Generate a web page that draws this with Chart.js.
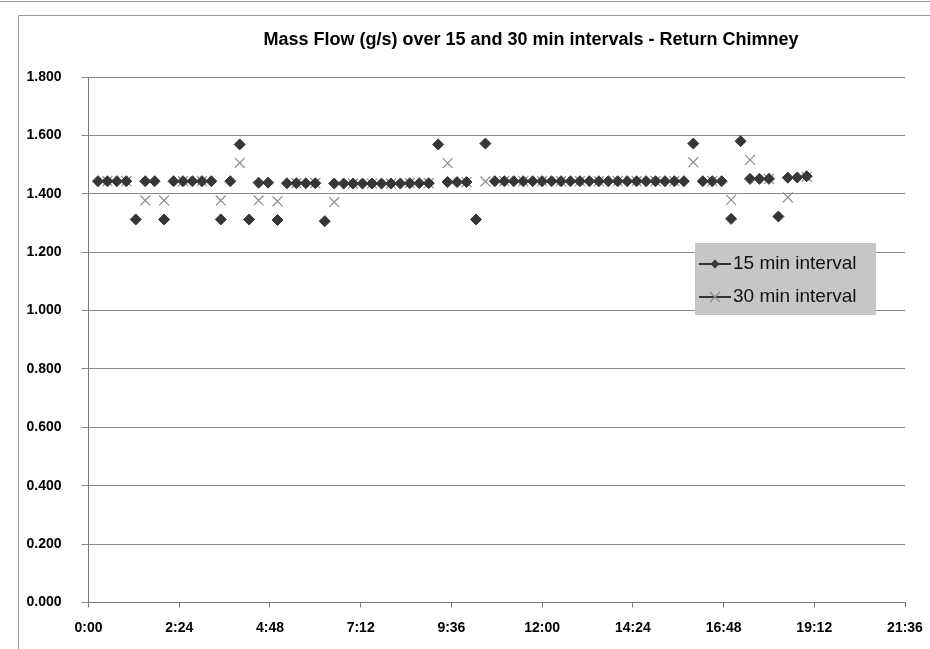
<!DOCTYPE html>
<html>
<head>
<meta charset="utf-8">
<script src="https://cdn.jsdelivr.net/npm/chart.js@4.4.0/dist/chart.umd.min.js"></script>
<style>
  html, body { margin: 0; padding: 0; background: #ffffff; }
  #wrap { width: 930px; height: 649px; position: relative; }
</style>
</head>
<body>
<div id="wrap"><canvas id="c" width="930" height="649"></canvas></div>
<script>
const chartTitle = "Mass Flow (g/s) over 15 and 30 min intervals - Return Chimney";
const seriesNames = ["15 min interval", "30 min interval"];

const times15 = ["0:15","0:30","0:45","1:00","1:15","1:30","1:45","2:00","2:15","2:30",
  "2:45","3:00","3:15","3:30","3:45","4:00","4:15","4:30","4:45","5:00",
  "5:15","5:30","5:45","6:00","6:15","6:30","6:45","7:00","7:15","7:30",
  "7:45","8:00","8:15","8:30","8:45","9:00","9:15","9:30","9:45","10:00",
  "10:15","10:30","10:45","11:00","11:15","11:30","11:45","12:00","12:15","12:30",
  "12:45","13:00","13:15","13:30","13:45","14:00","14:15","14:30","14:45","15:00",
  "15:15","15:30","15:45","16:00","16:15","16:30","16:45","17:00","17:15","17:30",
  "17:45","18:00","18:15","18:30","18:45","19:00"];
const flow15 = [1.443,1.443,1.443,1.443,1.312,1.443,1.443,1.312,1.443,1.443,
  1.443,1.443,1.443,1.312,1.443,1.569,1.312,1.438,1.438,1.310,
  1.436,1.436,1.436,1.436,1.306,1.435,1.435,1.435,1.435,1.435,
  1.435,1.435,1.435,1.436,1.436,1.436,1.569,1.440,1.440,1.440,
  1.312,1.572,1.443,1.443,1.443,1.443,1.443,1.443,1.443,1.443,
  1.443,1.443,1.443,1.443,1.443,1.443,1.443,1.443,1.443,1.443,
  1.443,1.443,1.443,1.572,1.443,1.443,1.443,1.314,1.580,1.451,
  1.451,1.451,1.322,1.455,1.456,1.460];

const times30 = ["0:30","1:00","1:30","2:00","2:30","3:00","3:30","4:00","4:30","5:00",
  "5:30","6:00","6:30","7:00","7:30","8:00","8:30","9:00","9:30","10:00",
  "10:30","11:00","11:30","12:00","12:30","13:00","13:30","14:00","14:30","15:00",
  "15:30","16:00","16:30","17:00","17:30","18:00","18:30","19:00"];
const flow30 = [1.443,1.443,1.377,1.377,1.443,1.443,1.377,1.506,1.377,1.374,
  1.436,1.436,1.371,1.435,1.435,1.435,1.436,1.436,1.505,1.440,
  1.442,1.443,1.443,1.443,1.443,1.443,1.443,1.443,1.443,1.443,
  1.443,1.508,1.443,1.379,1.516,1.451,1.388,1.458];

const xTickLabels = ["0:00","2:24","4:48","7:12","9:36","12:00","14:24","16:48","19:12","21:36"];
const yTickLabels = ["0.000","0.200","0.400","0.600","0.800","1.000","1.200","1.400","1.600","1.800"];

function toHours(t) { const p = t.split(":"); return Number(p[0]) + Number(p[1]) / 60; }
const pts15 = times15.map((t, i) => ({ x: toHours(t), y: flow15[i] }));
const pts30 = times30.map((t, i) => ({ x: toHours(t), y: flow30[i] }));
const xTickValues = xTickLabels.map(toHours);

const FONT = "'Liberation Sans', Arial, sans-serif";
const DIAMOND = '#363636';
const CROSS = '#8c8c8c';

const framePlugin = {
  id: 'frame',
  beforeDraw(chart) {
    const ctx = chart.ctx;
    ctx.save();
    ctx.fillStyle = '#ffffff';
    ctx.fillRect(0, 0, chart.width, chart.height);
    ctx.strokeStyle = '#9a9a9a';
    ctx.lineWidth = 1;
    ctx.beginPath();
    ctx.moveTo(0, 1.5); ctx.lineTo(chart.width, 1.5);
    ctx.stroke();
    ctx.beginPath();
    ctx.moveTo(18.5, chart.height); ctx.lineTo(18.5, 15.5); ctx.lineTo(chart.width, 15.5);
    ctx.stroke();
    ctx.fillStyle = '#000000';
    ctx.font = "bold 18px " + FONT;
    ctx.textAlign = 'center';
    ctx.textBaseline = 'middle';
    ctx.fillText(chartTitle, 531, 40);
    ctx.restore();
  },
  afterDatasetsDraw(chart) {
    const ctx = chart.ctx;
    const bx = 695, by = 243, bw = 181, bh = 72;
    ctx.save();
    ctx.fillStyle = '#c6c6c6';
    ctx.fillRect(bx, by, bw, bh);
    const rows = [{ y: 264, style: 'rectRot', color: DIAMOND, r: 4.5 }, { y: 297, style: 'crossRot', color: CROSS, r: 5 }];
    rows.forEach((row, i) => {
      ctx.strokeStyle = '#333333';
      ctx.lineWidth = 2;
      ctx.beginPath();
      ctx.moveTo(699, row.y); ctx.lineTo(731, row.y);
      ctx.stroke();
      ctx.fillStyle = row.color;
      ctx.strokeStyle = row.color;
      ctx.lineWidth = 1.2;
      ctx.beginPath();
      if (row.style === 'rectRot') {
        ctx.moveTo(715 - row.r, row.y); ctx.lineTo(715, row.y - row.r);
        ctx.lineTo(715 + row.r, row.y); ctx.lineTo(715, row.y + row.r); ctx.closePath();
        ctx.fill();
      } else {
        ctx.moveTo(715 - row.r, row.y - row.r); ctx.lineTo(715 + row.r, row.y + row.r);
        ctx.moveTo(715 + row.r, row.y - row.r); ctx.lineTo(715 - row.r, row.y + row.r);
        ctx.stroke();
      }
      ctx.fillStyle = '#111111';
      ctx.font = "19px " + FONT;
      ctx.textAlign = 'left';
      ctx.textBaseline = 'middle';
      ctx.fillText(seriesNames[i], 733, row.y);
    });
    ctx.restore();
  }
};

new Chart(document.getElementById('c'), {
  type: 'scatter',
  data: {
    datasets: [
      { label: seriesNames[0], data: pts15, showLine: false,
        pointStyle: 'rectRot', pointRadius: 5.5, pointHoverRadius: 5.5,
        backgroundColor: DIAMOND, borderColor: DIAMOND, pointBorderWidth: 1 },
      { label: seriesNames[1], data: pts30, showLine: false,
        pointStyle: 'crossRot', pointRadius: 7, pointHoverRadius: 7,
        backgroundColor: CROSS, borderColor: CROSS, pointBorderWidth: 1.2 }
    ]
  },
  options: {
    responsive: false,
    animation: false,
    events: [],
    layout: { padding: { top: 77, right: 25, left: 0, bottom: 0 } },
    plugins: { legend: { display: false }, title: { display: false }, tooltip: { enabled: false } },
    scales: {
      x: {
        type: 'linear', min: 0, max: 21.6,
        afterBuildTicks(scale) { scale.ticks = xTickValues.map(v => ({ value: v })); },
        afterFit(scale) { scale.height = 46.6; scale.paddingLeft = 0; scale.paddingRight = 0; },
        ticks: {
          color: '#000000', font: { family: FONT, size: 14, weight: 'bold' }, padding: 12,
          maxRotation: 0, autoSkip: false,
          callback: (v, i) => xTickLabels[i]
        },
        grid: { display: true, drawOnChartArea: false, drawTicks: true, tickLength: 5, color: '#7a7a7a' },
        border: { display: true, color: '#7a7a7a', width: 1 }
      },
      y: {
        min: 0, max: 1.8,
        afterBuildTicks(scale) { scale.ticks = yTickLabels.map(s => ({ value: Number(s) })); },
        afterFit(scale) { scale.width = 88.5; scale.paddingTop = 0; scale.paddingBottom = 0; },
        ticks: {
          color: '#000000', font: { family: FONT, size: 14, weight: 'bold' }, padding: 20,
          callback: (v, i) => yTickLabels[i]
        },
        grid: { color: '#888888', lineWidth: 1, tickLength: 7, drawTicks: true },
        border: { display: true, color: '#7a7a7a', width: 1 }
      }
    }
  },
  plugins: [framePlugin]
});
</script>
</body>
</html>
